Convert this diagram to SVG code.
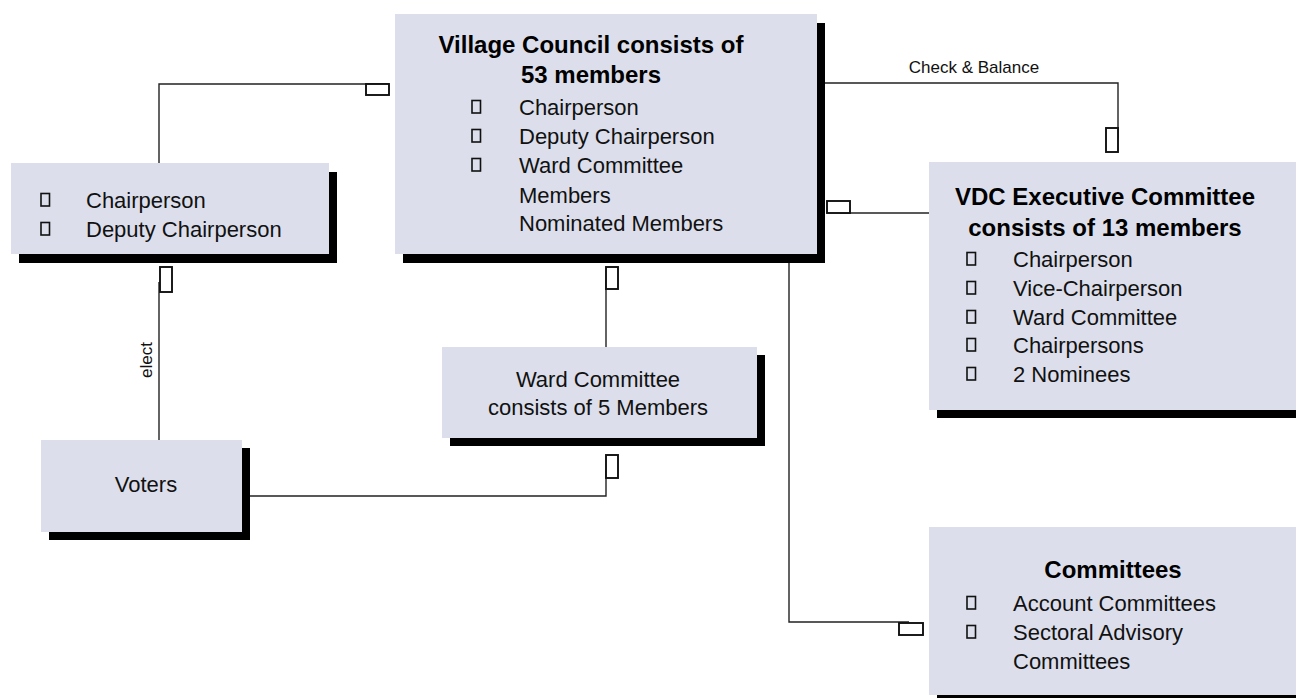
<svg xmlns="http://www.w3.org/2000/svg" width="1296" height="698" viewBox="0 0 1296 698">
<style>
.fill{fill:#dcdfeb}
.shadow{fill:#000}
.t{font-family:"Liberation Sans",Arial,sans-serif;font-size:22px;fill:#111}
.b{font-family:"Liberation Sans",Arial,sans-serif;font-size:24px;font-weight:bold;fill:#000}
.s{font-family:"Liberation Sans",Arial,sans-serif;font-size:17px;fill:#111}
.bul{fill:none;stroke:#111;stroke-width:1.6}
.con{fill:none;stroke:#222;stroke-width:1.4}
.ah{fill:#fff;stroke:#111;stroke-width:1.9}
</style>
<defs>
<rect id="bullet" class="bul" x="0" y="-14.5" width="8.5" height="12.5"/>
</defs>
<rect width="1296" height="698" fill="#fff"/>

<g id="connectors">
<path class="con" d="M159,163 V84 H389"/>
<rect class="ah" x="366" y="84" width="23" height="11"/>
<path class="con" d="M824,83 H1118 V138"/>
<rect class="ah" x="1106" y="128" width="12" height="24"/>
<text class="s" x="974" y="73" text-anchor="middle">Check &amp; Balance</text>
<path class="con" d="M929,213 H840"/>
<rect class="ah" x="827" y="201" width="23" height="12"/>
<path class="con" d="M159,440 V282"/>
<rect class="ah" x="160" y="267" width="12" height="25"/>
<text class="s" transform="translate(152,360) rotate(-90)" text-anchor="middle">elect</text>
<path class="con" d="M606,347 V280"/>
<rect class="ah" x="606" y="267" width="12" height="22"/>
<path class="con" d="M250,496 H606 V470"/>
<rect class="ah" x="606" y="455" width="12" height="23"/>
<path class="con" d="M789,263 V622 H909"/>
<rect class="ah" x="899" y="623" width="24" height="12"/>
</g>

<g id="village-council">
<rect class="shadow" x="403" y="23" width="422" height="240"/>
<rect class="fill" x="395" y="14" width="422" height="240"/>
<text class="b" x="591" y="53" text-anchor="middle">Village Council consists of</text>
<text class="b" x="591" y="83" text-anchor="middle">53 members</text>
<use href="#bullet" x="472" y="115"/>
<use href="#bullet" x="472" y="144"/>
<use href="#bullet" x="472" y="173"/>
<text class="t" x="519" y="115">Chairperson</text>
<text class="t" x="519" y="144">Deputy Chairperson</text>
<text class="t" x="519" y="173">Ward Committee</text>
<text class="t" x="519" y="203">Members</text>
<text class="t" x="519" y="231">Nominated Members</text>
</g>

<g id="chair-box">
<rect class="shadow" x="19" y="172" width="318" height="91"/>
<rect class="fill" x="11" y="163" width="318" height="91"/>
<use href="#bullet" x="41" y="208"/>
<use href="#bullet" x="41" y="237"/>
<text class="t" x="86" y="208">Chairperson</text>
<text class="t" x="86" y="237">Deputy Chairperson</text>
</g>

<g id="vdc-executive">
<rect class="shadow" x="937" y="170" width="370" height="248"/>
<rect class="fill" x="929" y="162" width="370" height="248"/>
<text class="b" x="1105" y="205" text-anchor="middle">VDC Executive Committee</text>
<text class="b" x="1105" y="236" text-anchor="middle">consists of 13 members</text>
<use href="#bullet" x="967" y="267"/>
<use href="#bullet" x="967" y="296"/>
<use href="#bullet" x="967" y="325"/>
<use href="#bullet" x="967" y="353"/>
<use href="#bullet" x="967" y="382"/>
<text class="t" x="1013" y="267">Chairperson</text>
<text class="t" x="1013" y="296">Vice-Chairperson</text>
<text class="t" x="1013" y="325">Ward Committee</text>
<text class="t" x="1013" y="353">Chairpersons</text>
<text class="t" x="1013" y="382">2 Nominees</text>
</g>

<g id="ward-committee">
<rect class="shadow" x="450" y="355" width="315" height="91"/>
<rect class="fill" x="442" y="347" width="315" height="91"/>
<text class="t" x="598" y="387" text-anchor="middle">Ward Committee</text>
<text class="t" x="598" y="415" text-anchor="middle">consists of 5 Members</text>
</g>

<g id="voters">
<rect class="shadow" x="49" y="448" width="201" height="92"/>
<rect class="fill" x="41" y="440" width="201" height="92"/>
<text class="t" x="146" y="492" text-anchor="middle">Voters</text>
</g>

<g id="committees">
<rect class="shadow" x="937" y="535" width="370" height="168"/>
<rect class="fill" x="929" y="527" width="370" height="168"/>
<text class="b" x="1113" y="578" text-anchor="middle">Committees</text>
<use href="#bullet" x="967" y="611"/>
<use href="#bullet" x="967" y="640"/>
<text class="t" x="1013" y="611">Account Committees</text>
<text class="t" x="1013" y="640">Sectoral Advisory</text>
<text class="t" x="1013" y="669">Committees</text>
</g>
</svg>
